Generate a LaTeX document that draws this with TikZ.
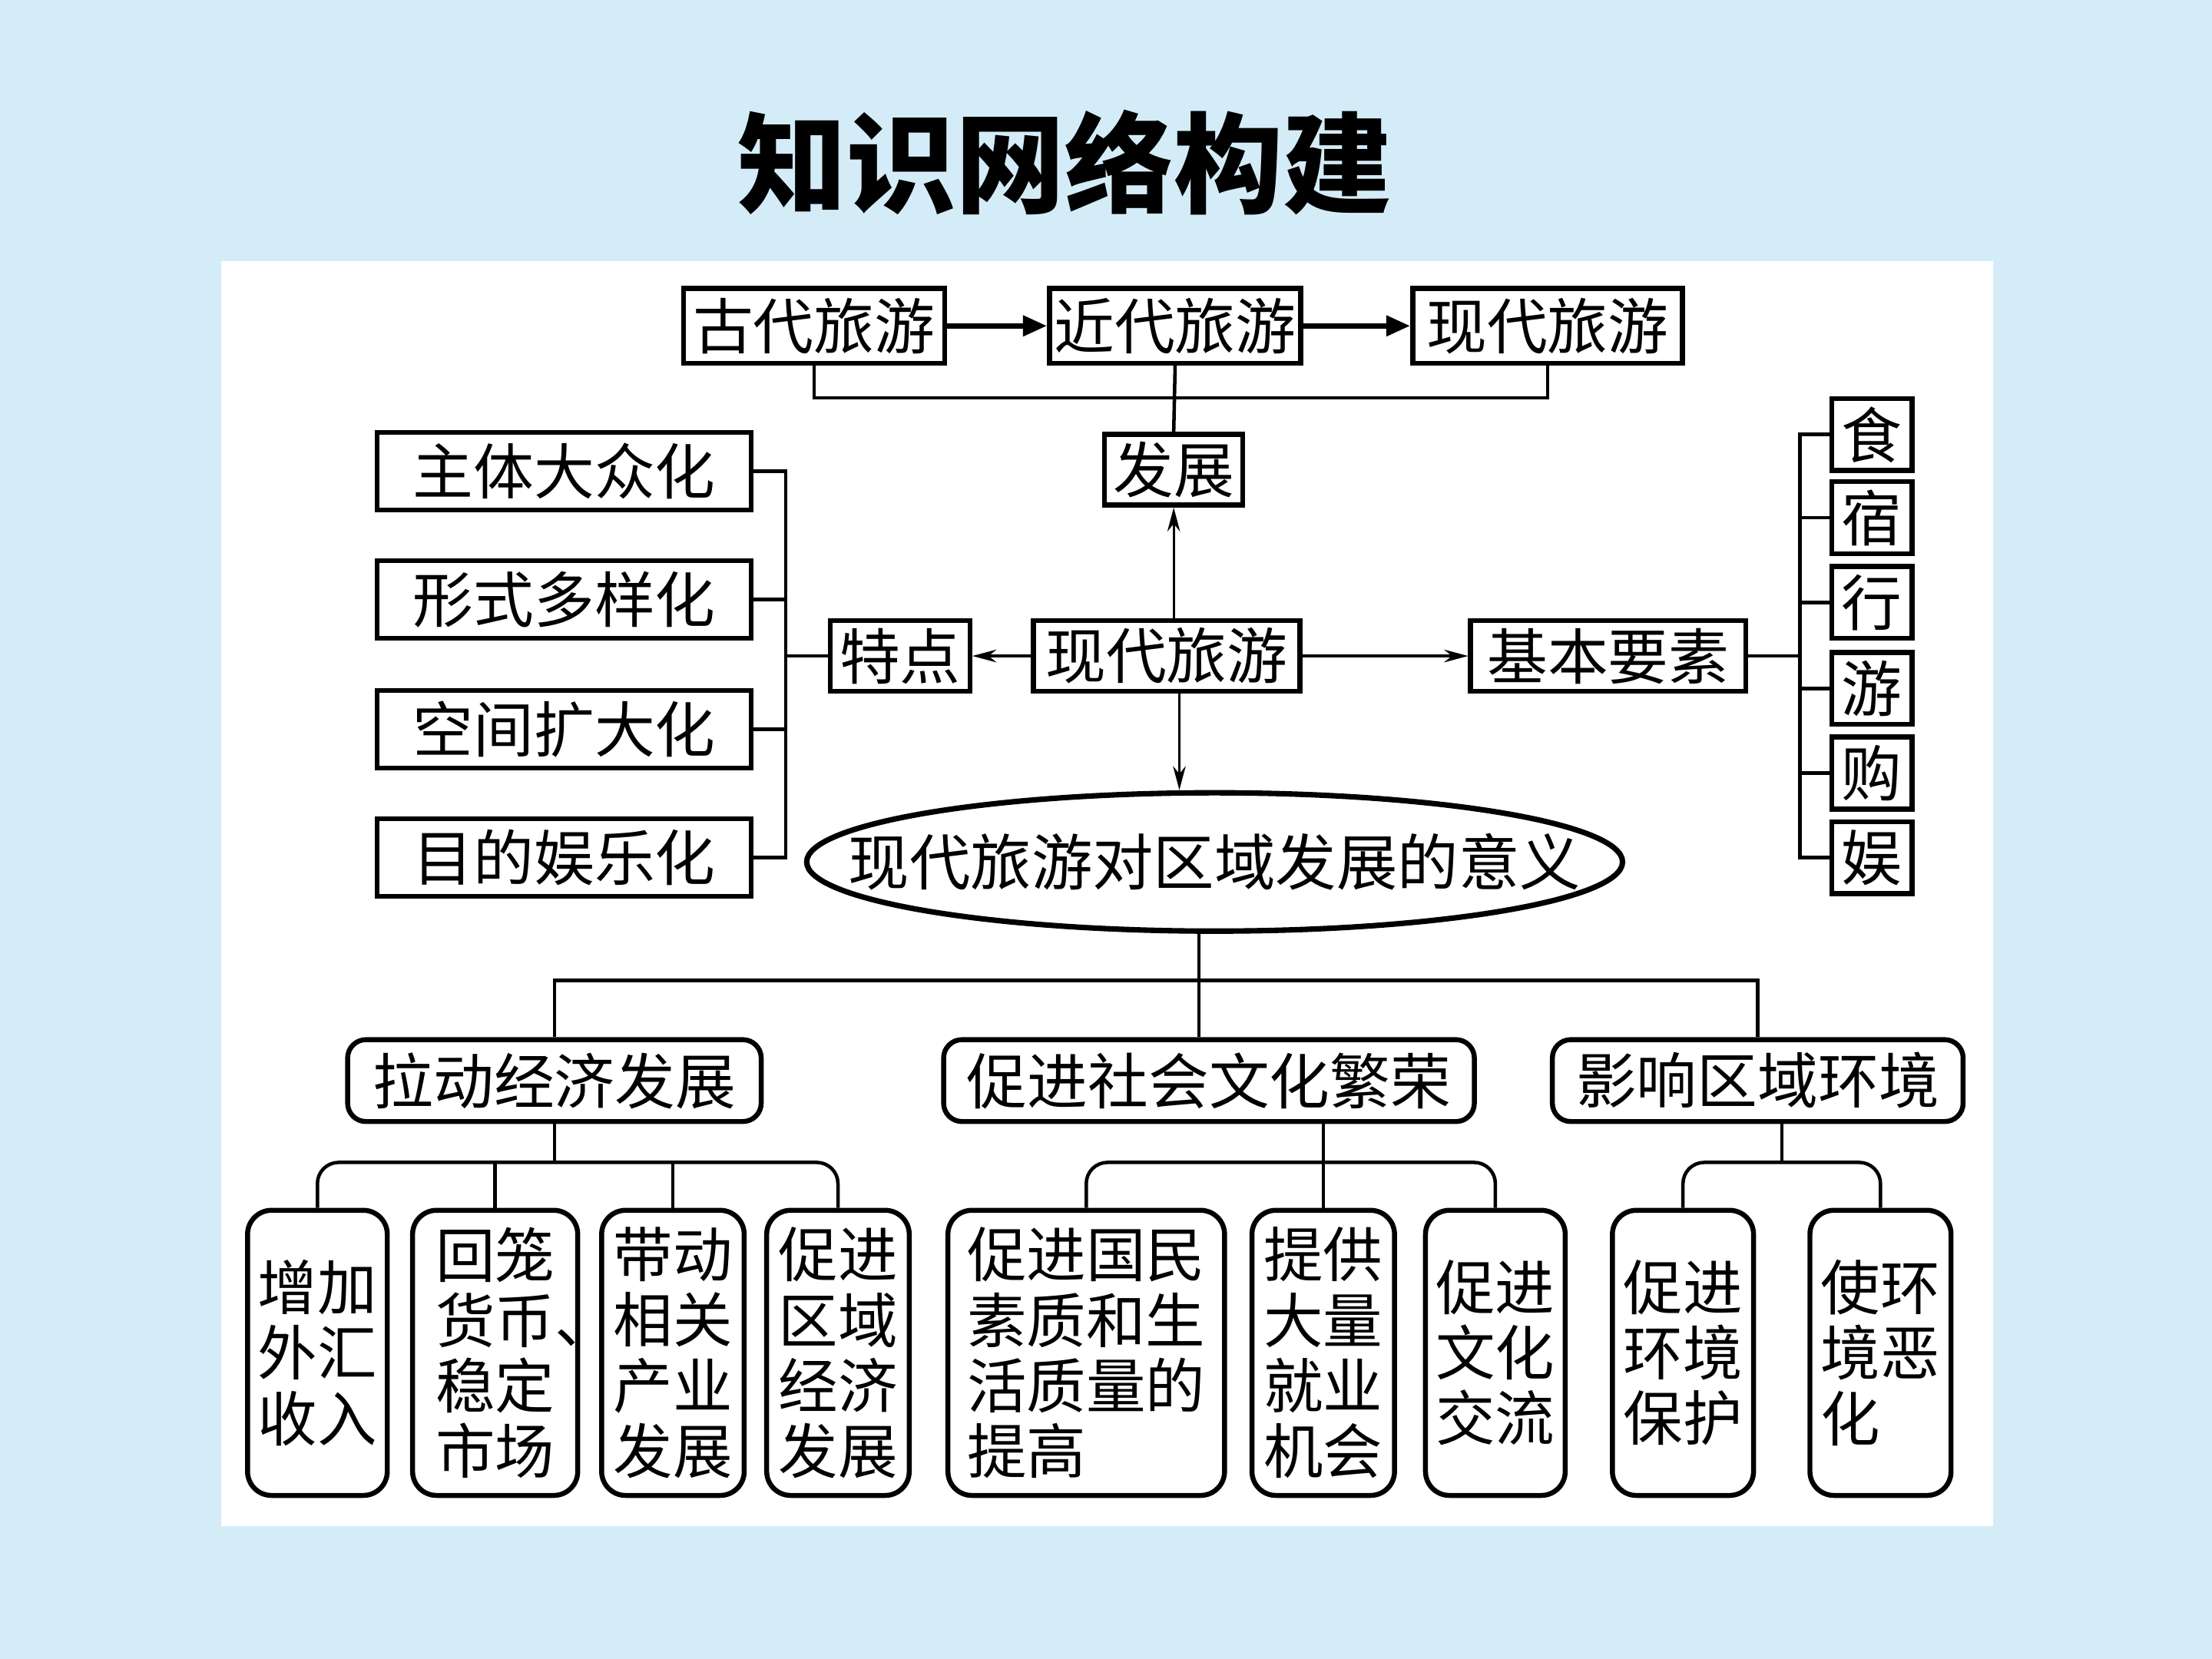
\documentclass[tikz,border=0pt]{standalone}
\usepackage{fontspec}
\setmainfont{Noto Sans CJK SC}
\usetikzlibrary{arrows.meta,shapes.geometric}
\definecolor{bgblue}{RGB}{212,236,247}
\begin{document}
\begin{tikzpicture}[x=0.01cm,y=-0.01cm,
  box/.style={draw, line width=1pt, inner sep=0pt, font=\fontsize{12.2pt}{13.4pt}\selectfont},
  rbox/.style={box, rounded corners=0.13cm, minimum height=0.58cm},
  tall/.style={box, rounded corners=0.17cm, align=left, minimum height=2.02cm, font=\fontsize{12pt}{13.2pt}\selectfont},
  sq/.style={box, minimum width=0.57cm, minimum height=0.51cm},
  lbox/.style={box, minimum width=2.65cm, minimum height=0.55cm},
  conn/.style={line width=0.7pt},
  bracket/.style={conn, rounded corners=0.15cm},
  thickarrow/.style={line width=1.1pt, -{Triangle[length=0.17cm,width=0.14cm]}},
  thinarrow/.style={line width=0.5pt, -{Stealth[length=0.17cm,width=0.09cm]}},
]
\useasboundingbox (0,0) rectangle (1568,1176);
\fill[bgblue] (0,0) rectangle (1568,1176);
\fill[white] (157,185) rectangle (1413,1082);

% title
\node[font=\fontsize{22pt}{24pt}\selectfont\bfseries] (title) at (755,115) {知识网络构建};

% top row
\node[box, minimum width=1.85cm, minimum height=0.53cm] (gd) at (577,231) {古代旅游};
\node[box, minimum width=1.78cm, minimum height=0.53cm] (jd) at (833,231) {近代旅游};
\node[box, minimum width=1.91cm, minimum height=0.53cm] (xdt) at (1097,231) {现代旅游};
\node[box, minimum width=0.98cm, minimum height=0.50cm] (fz) at (832,333) {发展};

% center row
\node[box, minimum width=1.89cm, minimum height=0.50cm] (xdc) at (827,465) {现代旅游};
\node[box, minimum width=0.99cm, minimum height=0.50cm] (td) at (638,465) {特点};
\node[box, minimum width=1.95cm, minimum height=0.50cm] (jb) at (1140,465) {基本要素};

% left column
\node[lbox] (l1) at (400,334) {主体大众化};
\node[lbox] (l2) at (400,425) {形式多样化};
\node[lbox] (l3) at (400,517) {空间扩大化};
\node[lbox] (l4) at (400,608) {目的娱乐化};

% right column
\node[sq] (r1) at (1327,308) {食};
\node[sq] (r2) at (1327,367) {宿};
\node[sq] (r3) at (1327,427) {行};
\node[sq] (r4) at (1327,488) {游};
\node[sq] (r5) at (1327,548) {购};
\node[sq] (r6) at (1327,608) {娱};

% ellipse
\node[box, ellipse, line width=1.1pt, minimum width=5.78cm, minimum height=0.98cm, font=\fontsize{12.3pt}{14pt}\selectfont] (yy) at (861,611) {\makebox[0pt]{现代旅游对区域发展的意义}};

% level 2
\node[rbox, minimum width=2.93cm] (ma) at (393,766) {拉动经济发展};
\node[rbox, minimum width=3.76cm] (mb) at (857,766) {促进社会文化繁荣};
\node[rbox, minimum width=2.91cm] (mc) at (1246,766) {影响区域环境};

% level 3
\node[tall, minimum width=0.99cm] (a1) at (225,959) {增加\\外汇\\收入};
\node[tall, minimum width=1.17cm] (a2) at (351,959) {回笼\\货币\rlap{、}\\稳定\\市场};
\node[tall, minimum width=1.01cm] (a3) at (477,959) {带动\\相关\\产业\\发展};
\node[tall, minimum width=1.01cm] (a4) at (594,959) {促进\\区域\\经济\\发展};
\node[tall, minimum width=1.96cm] (b1) at (770,959) {促进国民\\素质和生\\活质量的\\提高};
\node[tall, minimum width=1.01cm] (b2) at (938,959) {提供\\大量\\就业\\机会};
\node[tall, minimum width=0.99cm] (b3) at (1060,959) {促进\\文化\\交流};
\node[tall, minimum width=1.00cm] (c1) at (1193,959) {促进\\环境\\保护};
\node[tall, minimum width=1.00cm] (c2) at (1333,959) {使环\\境恶\\化};

% top connectors
\draw[thickarrow] (gd.east) -- (jd.west);
\draw[thickarrow] (jd.east) -- (xdt.west);
\coordinate (bar1) at (833,282);
\draw[conn] (gd.south) |- (bar1) -| (xdt.south);
\draw[conn] (jd.south) -- (fz.north);

% center arrows
\draw[thinarrow] (xdc.north -| fz.south) -- (fz.south);
\draw[thinarrow] (xdc.west) -- (td.east);
\draw[thinarrow] (xdc.east) -- (jb.west);
\draw[thinarrow] ([xshift=0.09cm]xdc.south) -- ([xshift=0.09cm]xdc.south |- yy.north);

% left bracket
\coordinate (lv) at (557,465);
\draw[conn] (l1.east) -- (l1.east -| lv) -- (l4.east -| lv) -- (l4.east);
\draw[conn] (l2.east) -- (l2.east -| lv);
\draw[conn] (l3.east) -- (l3.east -| lv);
\draw[conn] (td.west) -- (lv);

% right bracket
\coordinate (rv) at (1276,465);
\draw[conn] (r1.west) -- (r1.west -| rv) -- (r6.west -| rv) -- (r6.west);
\draw[conn] (r2.west) -- (r2.west -| rv);
\draw[conn] (r3.west) -- (r3.west -| rv);
\draw[conn] (r4.west) -- (r4.west -| rv);
\draw[conn] (r5.west) -- (r5.west -| rv);
\draw[conn] (jb.east) -- (rv);

% ellipse to level 2
\coordinate (yd) at (850,695);
\draw[conn] (yy.south -| yd) -- (yd);
\draw[conn] (ma.north) |- (yd) -| (mc.north);
\draw[conn] (yd) -- (yd |- mb.north);

% level 2 to level 3
\coordinate (ba) at (393,824);
\draw[conn] (ma.south) -- (ba);
\draw[bracket] (a1.north) |- (ba) -| (a4.north);
\draw[conn] (a2.north) -- (a2.north |- ba);
\draw[conn] (a3.north) -- (a3.north |- ba);

\coordinate (bb) at (938,824);
\draw[conn] (mb.south -| bb) -- (b2.north);
\draw[bracket] (b1.north) |- (bb) -| (b3.north);

\coordinate (bc) at (1263,824);
\draw[conn] (mc.south -| bc) -- (bc);
\draw[bracket] (c1.north) |- (bc) -| (c2.north);
\end{tikzpicture}
\end{document}
